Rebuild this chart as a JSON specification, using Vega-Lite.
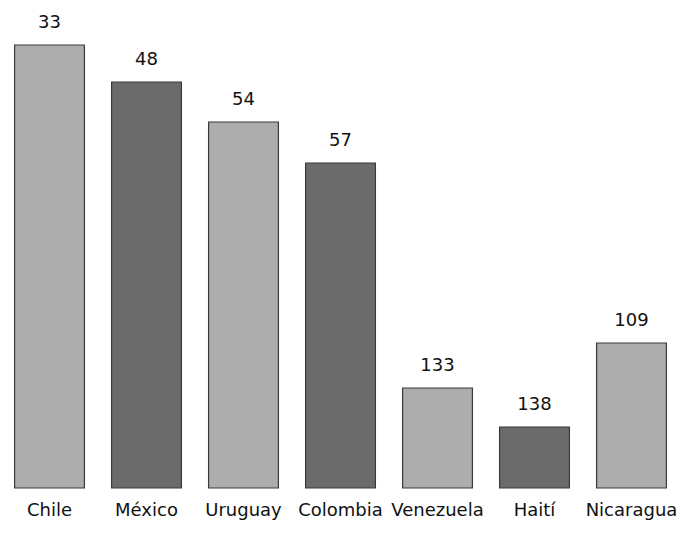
{
  "$schema": "https://vega.github.io/schema/vega-lite/v6.json",
  "width": 679,
  "height": 488,
  "padding": {"left": 1, "top": 0, "right": 1, "bottom": 45},
  "autosize": "none",
  "background": "white",
  "config": {"view": {"stroke": null}, "font": "DejaVu Sans"},
  "data": {"values": [
    {"pais": "Chile", "valor": 443, "rango": "33", "tono": "claro"},
    {"pais": "México", "valor": 406, "rango": "48", "tono": "oscuro"},
    {"pais": "Uruguay", "valor": 366, "rango": "54", "tono": "claro"},
    {"pais": "Colombia", "valor": 325, "rango": "57", "tono": "oscuro"},
    {"pais": "Venezuela", "valor": 100, "rango": "133", "tono": "claro"},
    {"pais": "Haití", "valor": 61, "rango": "138", "tono": "oscuro"},
    {"pais": "Nicaragua", "valor": 145, "rango": "109", "tono": "claro"}
  ]},
  "encoding": {
    "x": {"field": "pais", "type": "nominal", "sort": null,
      "scale": {"paddingInner": 0.28, "paddingOuter": 0.14},
      "axis": {"title": null, "labelAngle": 0, "ticks": false, "domain": false, "labelPadding": 13, "labelFontSize": 18, "labelColor": "#111", "labelFont": "DejaVu Sans", "labelOverlap": false, "labelBound": false}},
    "y": {"field": "valor", "type": "quantitative", "scale": {"domain": [0, 488], "nice": false}, "axis": null}
  },
  "layer": [
    {"mark": {"type": "bar", "stroke": "#3a3a3a", "strokeWidth": 1.2},
     "encoding": {"color": {"field": "tono", "type": "nominal", "legend": null,
       "scale": {"domain": ["claro", "oscuro"], "range": ["#adadad", "#6b6b6b"]}}}},
    {"mark": {"type": "text", "dy": -22, "fontSize": 18, "color": "#111", "font": "DejaVu Sans"},
     "encoding": {"text": {"field": "rango"}}}
  ]
}
